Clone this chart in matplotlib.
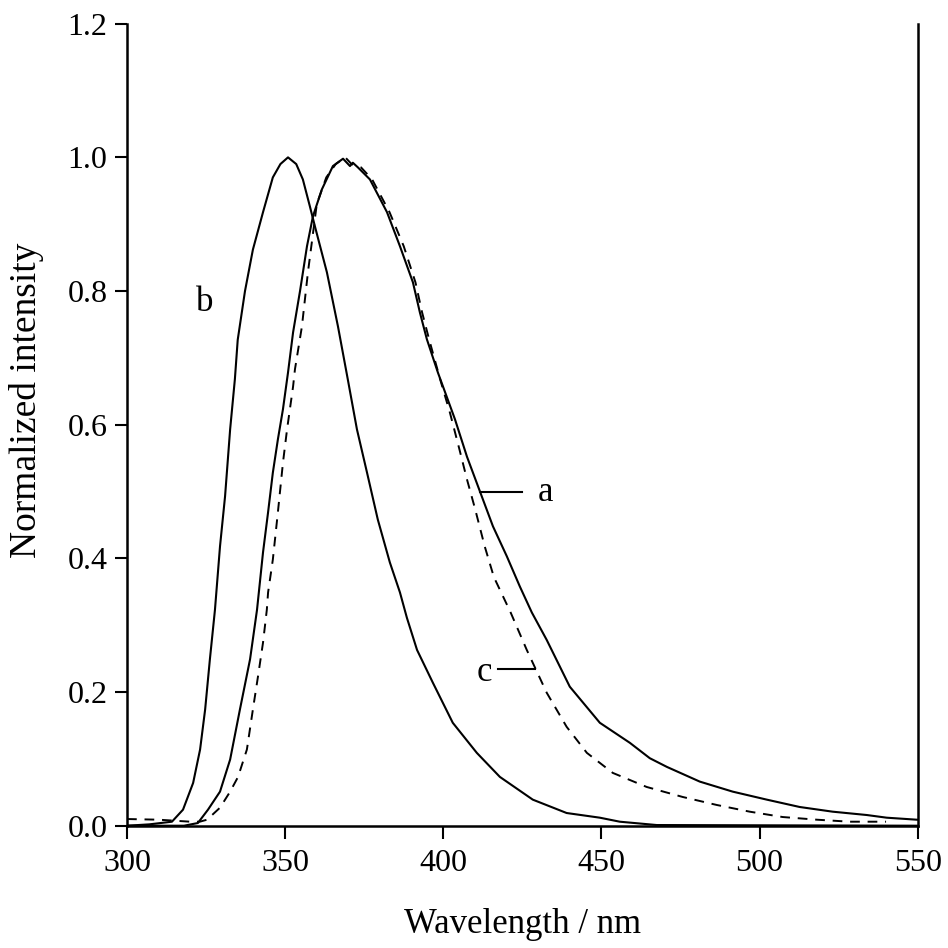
import matplotlib.pyplot as plt

plt.rcParams['font.family'] = ['Liberation Serif', 'DejaVu Serif']

# curve a (solid)
a_x = [300, 318, 322.4, 325.6, 329.4, 332.6, 335.7, 338.9, 341.1, 343, 344.6, 346.1, 347.7,
       349.3, 350.9, 352.5, 354.7, 356.9, 358.8, 361.6, 365.1, 368.3, 370.5, 371.4, 373,
       376.8, 382.2, 386.3, 390.4, 392.6, 394.8, 398.3, 403.7, 407.5, 411.6, 415.7, 420.1,
       424.2, 428, 432.7, 440, 449.5, 459, 465.3, 470.7, 481.1, 491.5, 502.3, 512.7, 523.1,
       533.9, 540.2, 549.7, 550]
a_y = [0.0, 0.0, 0.004, 0.024, 0.051, 0.099, 0.174, 0.249, 0.323, 0.409, 0.469, 0.528, 0.578,
       0.623, 0.678, 0.738, 0.80, 0.867, 0.912, 0.952, 0.987, 0.998, 0.987, 0.992, 0.985,
       0.967, 0.918, 0.867, 0.813, 0.768, 0.728, 0.678, 0.608, 0.552, 0.50, 0.448, 0.403,
       0.358, 0.319, 0.278, 0.208, 0.154, 0.124, 0.101, 0.088, 0.066, 0.051, 0.039, 0.028, 0.021,
       0.016, 0.012, 0.009, 0.009]

# curve b (solid, blue-shifted)
b_x = [300, 307, 314.2, 317.7, 320.9, 323.1, 324.7, 326.2, 327.8, 329.4, 331, 332.6, 334.1,
       335, 337.3, 339.8, 343, 346.1, 348.5, 350.9, 353.5, 355.6, 357.8, 359.4, 363.2, 366.7,
       369.8, 372.7, 375.9, 379.3, 383.1, 386.3, 388.5, 391.7, 396.7, 403, 410.6, 417.9,
       428.3, 439, 449.5, 455.8, 467.5, 550]
b_y = [0.0, 0.002, 0.006, 0.024, 0.064, 0.114, 0.174, 0.249, 0.323, 0.418, 0.493, 0.593, 0.668,
       0.727, 0.80, 0.862, 0.918, 0.97, 0.99, 1.0, 0.99, 0.967, 0.927, 0.897, 0.828, 0.747,
       0.668, 0.593, 0.528, 0.458, 0.394, 0.349, 0.311, 0.263, 0.214, 0.154, 0.109, 0.073,
       0.039, 0.019, 0.012, 0.006, 0.001, 0.0]

# curve c (dashed)
c_x = [300, 310, 320, 323, 325.3, 329.4, 332.6, 335.1, 337.9, 339.8, 341.4, 343, 344.2, 344.6,
       346.1, 347.7, 349.3, 350.6, 352.5, 353.1, 355.3, 357.2, 360, 363, 366, 369, 371, 374,
       377.5, 383, 387.5, 391.2, 393.3, 395.5, 399, 402.1, 405, 407.5, 410, 413.1, 416, 421.3,
       426.4, 432.7, 439, 445.4, 453.6, 464.3, 475.7, 486.5, 496.9, 507.3, 518.1, 528.5, 540]
c_y = [0.01, 0.009, 0.006, 0.006, 0.009, 0.027, 0.051, 0.073, 0.114, 0.174, 0.223, 0.274, 0.323,
       0.349, 0.398, 0.469, 0.543, 0.593, 0.657, 0.683, 0.747, 0.828, 0.93, 0.97, 0.99, 1.0,
       0.99, 0.985, 0.967, 0.918, 0.867, 0.813, 0.768, 0.728, 0.668, 0.618, 0.565, 0.518,
       0.475, 0.418, 0.372, 0.319, 0.263, 0.199, 0.148, 0.109, 0.079, 0.058, 0.043, 0.031,
       0.021, 0.013, 0.009, 0.006, 0.006]

x_ticks = [300, 350, 400, 450, 500, 550]
y_ticks = [0.0, 0.2, 0.4, 0.6, 0.8, 1.0, 1.2]

fig = plt.figure(figsize=(9.48, 9.48), dpi=100)
ax = fig.add_axes([0.134, 0.129, 0.834, 0.846])

ax.plot(a_x, a_y, color='black', lw=1.5)
ax.plot(b_x, b_y, color='black', lw=1.5)
ax.plot(c_x, c_y, color='black', lw=1.4, dashes=(5, 4))

# curve labels with leader lines
ax.plot([411.6, 424.8], [0.499, 0.499], color='black', lw=1.5)
ax.text(430, 0.499, 'a', fontsize=25, va='center', ha='left')
ax.text(324.7, 0.783, 'b', fontsize=25, va='center', ha='center')
ax.plot([417.3, 429], [0.234, 0.234], color='black', lw=1.5)
ax.text(415.5, 0.229, 'c', fontsize=25, va='center', ha='right')

ax.set_xlim(300, 550)
ax.set_ylim(0, 1.2)
ax.set_xticks(x_ticks)
ax.set_yticks(y_ticks)
ax.set_yticklabels([f'{v:.1f}' for v in y_ticks])
ax.tick_params(direction='out', length=9, width=1.5, labelsize=23)
ax.tick_params(axis='x', pad=8)
ax.tick_params(axis='y', pad=5)
ax.spines['top'].set_visible(False)
for s in ['left', 'right', 'bottom']:
    ax.spines[s].set_linewidth(1.8)

ax.set_xlabel('Wavelength / nm', fontsize=25)
ax.set_ylabel('Normalized intensity', fontsize=27)
ax.xaxis.set_label_coords(0.5, -0.102)
ax.yaxis.set_label_coords(-0.105, 0.53)

plt.savefig('out.png', dpi=100)
